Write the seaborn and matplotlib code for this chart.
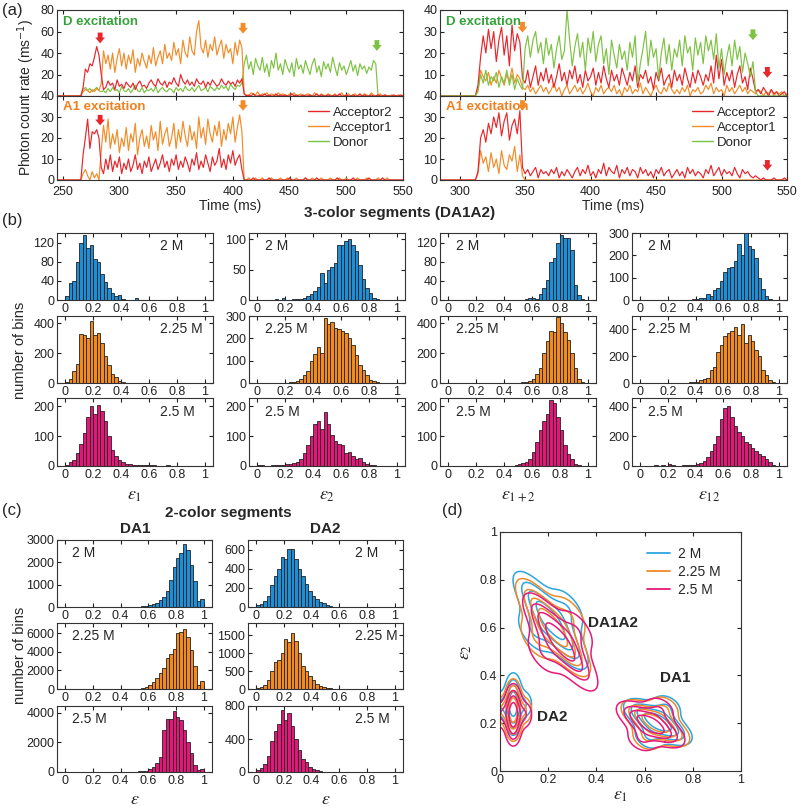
import numpy as np
import pandas as pd
import seaborn as sns
import matplotlib
matplotlib.use("Agg")
from matplotlib import pyplot as plt

# ---------------- data: (a) photon count traces, 2 ms bins ----------------
t_left = np.arange(246, 551, 2)    # 153 bins
t_right = np.arange(286, 551, 2)   # 133 bins

left_dex_a2 = """
0 0 0 0 0 0 0 0 0 0
0 8 25 22 30 28 36 46 38 20
6 8 14 10 12 6 15 9 11 7
13 10 8 12 6 11 14 9 10 7
12 15 11 9 16 12 10 14 8 13
11 17 12 9 20 14 11 15 10 13
9 16 12 11 14 8 13 10 15 12
9 11 16 12 10 14 11 13 9 15
12 16 2 0 1 0 2 0 0 1
0 2 0 1 0 0 2 0 1 0
1 0 0 2 0 1 0 0 1 0
0 1 0 0 2 0 1 0 0 1
0 0 1 0 2 0 0 1 0 0
1 0 0 2 0 1 0 0 1 0
0 1 0 0 1 0 0 0 1 0
0 1 0"""
left_dex_a1 = """
0 0 0 0 0 0 0 0 0 0
0 4 6 5 3 6 4 7 5 12
42 30 38 25 40 22 35 44 28 40
25 38 30 43 22 35 28 40 32 26
38 30 45 28 36 42 30 48 35 40
33 50 38 44 30 52 40 36 55 42
38 60 70 45 40 52 36 48 42 55
38 46 52 35 48 40 44 30 50 38
52 45 2 1 0 3 2 1 4 0
2 1 3 0 2 1 0 3 1 2
1 0 2 1 3 0 1 2 0 1
2 1 0 3 1 0 2 1 0 2
1 0 2 0 1 3 0 1 2 0
1 2 0 1 0 2 1 0 3 1
0 1 2 0 1 0 0 1 0 0
1 0 0"""
left_dex_d = """
0 0 0 0 0 0 0 0 0 0
0 6 8 5 7 4 6 8 5 4
5 3 7 4 8 5 6 3 9 5
4 7 3 6 10 5 4 8 3 6
5 7 4 9 3 6 8 5 4 7
6 3 8 5 7 4 9 6 5 8
4 7 10 5 6 8 4 9 7 5
8 6 10 7 9 5 11 8 6 10
9 12 30 38 25 32 20 35 28 24
36 22 30 18 33 26 40 24 30 20
34 27 22 31 18 35 25 29 21 33
26 20 30 35 22 28 18 32 25 30
22 36 27 19 31 24 28 20 26 33
23 29 19 30 25 28 21 27 24 33
30 0 0 0 0 0 0 0 0 0
0 0 0"""
left_a1_a2 = """
0 0 0 0 0 0 0 0 0 0
0 12 20 29 15 23 22 24 20 6
3 10 5 12 4 9 6 11 3 8
5 10 4 7 12 5 8 3 9 6
11 4 7 10 5 8 12 6 9 4
10 7 12 5 9 6 11 8 4 10
7 13 5 9 6 12 8 4 11 7
9 15 6 10 5 12 8 14 7 10
12 5 0 0 0 0 1 0 0 0
0 0 0 1 0 0 0 0 0 0
0 0 1 0 0 0 0 0 0 1
0 0 0 0 1 0 0 0 0 0
0 0 0 1 0 0 0 0 0 0
1 0 0 0 0 0 0 1 0 0
0 0 0 1 0 0 0 0 0 0
0 0 0"""
left_a1_a1 = """
0 0 0 0 0 0 0 0 0 0
0 3 5 2 0 4 1 3 0 14
26 18 29 15 22 17 24 13 20 16
25 14 22 18 27 12 20 24 16 21
15 26 19 23 14 28 17 22 25 16
20 27 15 24 18 28 21 16 26 19
23 15 30 20 25 17 29 22 18 26
21 28 16 24 19 27 22 30 18 25
31 23 0 0 1 0 0 1 0 0
1 0 0 0 1 0 0 0 1 0
0 1 0 0 0 1 0 0 0 1
0 0 1 0 0 0 1 0 0 0
1 0 0 0 1 0 0 1 0 0
0 0 1 0 0 0 1 0 0 0
0 1 0 0 0 1 0 0 0 0
0 0 0"""

right_dex_a2 = """
0 0 0 0 0 0 0 0 0 0
0 0 0 0 5 18 28 20 31 22
30 16 26 32 19 28 14 33 21 29
25 8 6 12 4 9 14 5 11 7
13 6 10 4 9 15 7 11 5 12
8 14 6 10 4 12 7 9 13 5
11 6 14 8 4 12 7 10 5 13
9 5 11 7 14 4 10 8 12 6
9 3 11 7 13 5 8 10 4 12
7 10 5 13 8 4 11 6 12 9
5 10 7 14 6 19 8 17 5 11
7 12 4 10 14 6 9 3 13 8
2 3 1 4 2 0 3 1 2 0
1 2 0"""
right_dex_a1 = """
0 0 0 0 0 0 0 0 0 0
0 0 0 0 3 12 9 7 11 5
9 6 12 8 5 10 7 13 6 10
8 4 3 5 2 4 1 3 5 2
4 1 3 6 2 4 0 3 5 1
3 5 2 4 1 3 6 2 0 4
2 5 1 3 4 2 5 1 3 0
4 2 5 1 3 2 6 1 4 2
0 3 5 2 1 4 2 6 3 1
3 1 4 2 5 0 3 2 4 1
2 5 3 6 1 4 2 3 0 5
2 4 1 3 5 2 4 1 3 2
1 3 2 0 2 1 3 0 2 1
2 0 1"""
right_dex_d = """
0 0 0 0 0 0 0 0 0 0
0 0 0 0 2 10 6 12 5 9
7 11 4 9 6 12 5 10 3 8
5 3 22 28 18 26 30 20 25 15
27 19 24 13 22 28 17 21 40 26
14 23 29 18 25 12 27 20 30 16
24 28 15 22 10 26 19 13 24 17
21 12 25 18 28 6 15 22 30 14
26 18 22 8 20 27 15 24 12 22
18 26 14 28 20 23 12 27 19 25
15 28 21 26 17 29 13 22 10 18
24 14 26 17 23 11 20 15 9 16
2 0 0 0 0 0 0 0 0 0
0 0 0"""
right_a1_a2 = """
0 0 0 0 0 0 0 0 0 0
0 0 0 0 4 20 24 18 27 22
30 25 32 21 28 32 19 26 29 22
33 6 3 5 2 4 6 1 5 3
4 2 5 3 6 1 4 2 5 3
1 4 6 2 5 3 7 2 4 1
5 3 8 2 6 4 3 7 1 5
3 6 2 5 4 1 6 3 5 2
4 1 5 3 6 2 4 5 1 3
5 2 4 1 6 3 5 2 4 3
1 5 3 7 2 4 6 2 5 3
4 2 6 3 1 5 3 4 2 1
2 1 0 1 0 0 0 1 0 0
0 1 0"""
right_a1_a1 = """
0 0 0 0 0 0 0 0 0 0
0 0 0 0 3 14 8 11 4 13
6 10 3 14 7 5 12 9 16 4
12 2 0 0 0 0 0 0 0 0
0 0 0 0 0 0 0 0 0 0
0 0 0 0 0 0 0 0 0 0
0 0 0 0 0 0 0 0 0 0
0 0 0 0 0 0 0 0 0 0
0 0 0 0 0 0 0 0 0 0
0 0 0 0 0 0 0 0 0 0
0 0 0 0 0 0 0 0 0 0
0 0 0 0 0 0 0 0 0 0
0 0 0 0 0 0 0 0 0 0
0 0 0"""

# ---------------- data: (b) 3-color histograms (40 bins, 0-1) ----------------
e1_2M = [8, 35, 40, 80, 120, 135, 108, 115, 85, 80, 55, 38, 25, 15, 8, 10, 2, 1, 0, 0,
         4, 0, 0, 0, 0, 0, 0, 0, 0, 0, 0, 0, 0, 0, 0, 0, 0, 0, 0, 0]
e1_225 = [5, 25, 80, 130, 330, 320, 300, 415, 320, 335, 270, 180, 120, 60, 40, 15, 8, 3, 1, 0,
          0, 0, 0, 0, 0, 0, 0, 0, 0, 0, 0, 0, 0, 0, 0, 0, 0, 0, 0, 0]
e1_25 = [5, 12, 20, 45, 75, 110, 165, 200, 175, 205, 185, 150, 100, 55, 35, 20, 12, 8, 8, 3,
         2, 3, 2, 4, 5, 3, 0, 0, 0, 2, 0, 0, 0, 0, 0, 0, 0, 0, 0, 0]
e2_2M = [0, 0, 0, 0, 0, 2, 0, 3, 0, 0, 1, 1, 2, 4, 6, 10, 15, 22, 45, 28,
         50, 55, 60, 90, 90, 97, 100, 90, 80, 58, 35, 20, 12, 4, 2, 0, 0, 0, 0, 0]
e2_225 = [0, 0, 0, 0, 2, 0, 0, 1, 2, 3, 6, 10, 20, 35, 55, 100, 130, 160, 135, 290,
          265, 275, 245, 240, 235, 225, 200, 170, 125, 80, 60, 35, 15, 8, 4, 1, 0, 0, 0, 0]
e2_25 = [3, 2, 1, 1, 3, 4, 5, 5, 6, 8, 10, 15, 25, 45, 70, 100, 140, 150, 125, 180,
         140, 105, 85, 75, 70, 45, 47, 35, 25, 28, 15, 8, 4, 2, 1, 0, 0, 0, 0, 0]
esum_2M = [0, 0, 0, 0, 0, 0, 0, 0, 0, 0, 0, 0, 0, 0, 0, 0, 0, 0, 0, 0,
           1, 1, 2, 4, 5, 3, 12, 25, 42, 80, 88, 120, 135, 130, 130, 105, 31, 10, 3, 0]
esum_225 = [0, 0, 0, 0, 0, 0, 0, 0, 0, 0, 0, 0, 0, 0, 0, 0, 0, 0, 0, 3,
            3, 5, 8, 15, 30, 60, 100, 200, 280, 350, 340, 440, 400, 340, 290, 200, 100, 30, 5, 0]
esum_25 = [0, 0, 0, 0, 0, 0, 0, 0, 0, 0, 0, 0, 0, 0, 0, 0, 0, 0, 0, 3,
           8, 10, 12, 25, 48, 80, 120, 150, 175, 222, 210, 165, 120, 70, 40, 25, 8, 2, 0, 0]
e12_2M = [2, 1, 0, 1, 0, 1, 0, 2, 0, 0, 2, 0, 0, 2, 0, 3, 5, 10, 8, 25,
          20, 45, 55, 85, 124, 145, 148, 175, 250, 200, 300, 240, 230, 190, 100, 50, 20, 5, 0, 0]
e12_225 = [2, 0, 0, 0, 0, 2, 0, 0, 0, 3, 3, 0, 0, 3, 4, 5, 10, 20, 30, 40,
           100, 120, 230, 280, 350, 370, 390, 420, 360, 440, 300, 360, 310, 250, 200, 100, 60, 20, 5, 0]
e12_25 = [3, 1, 0, 2, 4, 0, 5, 0, 15, 8, 0, 3, 5, 4, 6, 8, 12, 20, 35, 60,
          100, 150, 200, 320, 390, 405, 330, 270, 230, 200, 165, 150, 120, 100, 80, 70, 50, 25, 8, 0]

# ---------------- data: (c) 2-color histograms ----------------
da1_2M = [0, 0, 0, 0, 0, 0, 0, 0, 0, 0, 0, 0, 0, 0, 0, 0, 0, 0, 0, 5,
          10, 15, 30, 50, 80, 120, 200, 300, 450, 700, 1200, 1800, 2200, 2400, 2800, 2550, 1900, 1150, 250, 350]
da1_225 = [0, 0, 0, 0, 0, 0, 0, 0, 0, 0, 0, 0, 0, 0, 0, 0, 0, 0, 10, 20,
           30, 50, 100, 200, 400, 700, 1200, 1700, 2300, 3300, 3800, 4300, 6000, 6100, 6450, 5600, 4200, 2500, 450, 900]
da1_25 = [0, 0, 0, 0, 0, 0, 0, 0, 0, 0, 0, 0, 0, 0, 0, 0, 0, 0, 0, 10,
          20, 40, 60, 100, 200, 350, 600, 1000, 2800, 3550, 3600, 4100, 3700, 3500, 2850, 2000, 1300, 500, 150, 200]
da2_2M = [20, 30, 60, 120, 230, 320, 400, 520, 500, 610, 610, 500, 400, 320, 240, 170, 120, 80, 50, 40,
          20, 10, 5, 0, 0, 0, 0, 0, 0, 0, 0, 0, 0, 0, 0, 0, 0, 0, 0, 0]
da2_225 = [20, 60, 120, 250, 500, 750, 800, 1000, 1400, 1300, 1550, 1350, 1000, 650, 500, 350, 250, 150, 80, 60,
           30, 15, 5, 0, 0, 0, 0, 0, 0, 0, 0, 0, 0, 0, 0, 0, 0, 0, 0, 0]
da2_25 = [20, 50, 100, 200, 380, 500, 580, 750, 630, 710, 560, 400, 270, 160, 120, 60, 40, 20, 10, 5,
          0, 0, 0, 0, 0, 0, 0, 0, 0, 0, 0, 0, 0, 0, 0, 0, 0, 0, 0, 0]

# ---------------- data: (d) weighted anchor points for the 2D densities ----------------
conds = ['2 M', '2.25 M', '2.5 M']
pop_names = ['DA1A2', 'DA1', 'DA2']
anchor_w = [1, 2, 3, 2, 1, 1.5, 1.5]
kde_e1 = {
    ('DA1A2', '2 M'): [0.111, 0.161, 0.21, 0.259, 0.309, 0.279, 0.141],
    ('DA1A2', '2.25 M'): [0.121, 0.171, 0.22, 0.269, 0.319, 0.289, 0.151],
    ('DA1A2', '2.5 M'): [0.151, 0.201, 0.25, 0.299, 0.349, 0.319, 0.181],
    ('DA1', '2 M'): [0.56, 0.607, 0.655, 0.703, 0.75, 0.693, 0.617],
    ('DA1', '2.25 M'): [0.55, 0.597, 0.645, 0.693, 0.74, 0.683, 0.607],
    ('DA1', '2.5 M'): [0.53, 0.577, 0.625, 0.673, 0.72, 0.663, 0.587],
    ('DA2', '2 M'): [0.055, 0.055, 0.055, 0.055, 0.055, 0.005, 0.105],
    ('DA2', '2.25 M'): [0.055, 0.055, 0.055, 0.055, 0.055, 0.005, 0.105],
    ('DA2', '2.5 M'): [0.055, 0.055, 0.055, 0.055, 0.055, 0.005, 0.105],
}
kde_e2 = {
    ('DA1A2', '2 M'): [0.768, 0.699, 0.63, 0.561, 0.492, 0.679, 0.581],
    ('DA1A2', '2.25 M'): [0.738, 0.669, 0.60, 0.531, 0.462, 0.649, 0.551],
    ('DA1A2', '2.5 M'): [0.678, 0.609, 0.54, 0.471, 0.402, 0.589, 0.491],
    ('DA1', '2 M'): [0.26, 0.233, 0.205, 0.177, 0.15, 0.27, 0.14],
    ('DA1', '2.25 M'): [0.255, 0.228, 0.20, 0.172, 0.145, 0.265, 0.135],
    ('DA1', '2.5 M'): [0.25, 0.223, 0.195, 0.167, 0.14, 0.26, 0.13],
    ('DA2', '2 M'): [0.19, 0.235, 0.28, 0.325, 0.37, 0.28, 0.28],
    ('DA2', '2.25 M'): [0.165, 0.21, 0.255, 0.30, 0.345, 0.255, 0.255],
    ('DA2', '2.5 M'): [0.145, 0.19, 0.235, 0.28, 0.325, 0.235, 0.235],
}

# ---------------- style ----------------
sns.set_style("ticks")
plt.rcParams['font.family'] = ['Liberation Sans', 'DejaVu Sans']
plt.rcParams.update({
    'xtick.direction': 'in', 'ytick.direction': 'in',
    'xtick.top': True, 'ytick.right': True,
    'xtick.labelsize': 9, 'ytick.labelsize': 9,
    'axes.linewidth': 0.8, 'axes.edgecolor': '#333333',
    'xtick.major.size': 3, 'ytick.major.size': 3,
    'xtick.major.pad': 2, 'ytick.major.pad': 2,
    'xtick.color': '#222222', 'ytick.color': '#222222',
})

c_a2, c_a1, c_d = '#e8262b', '#f28c28', '#7dc242'
c_blue, c_orange, c_pink = '#1e8fd6', '#f28a1e', '#e3177a'
cond_colors = {'2 M': '#2aa6e0', '2.25 M': '#f08a28', '2.5 M': '#e6197a'}

W, H = 800, 811
fig = plt.figure(figsize=(8, 8.11), dpi=100)


def px_axes(x0, y0, x1, y1):
    return fig.add_axes([x0 / W, 1 - y1 / H, (x1 - x0) / W, (y1 - y0) / H])


def vals(s):
    return np.array(s.split(), dtype=float)


def arrow(ax, x, ytip, ytail, col):
    ax.annotate('', xy=(x, ytip), xytext=(x, ytail),
                arrowprops=dict(arrowstyle='simple,head_length=0.6,head_width=1.0,tail_width=0.5',
                                color=col, lw=0, mutation_scale=7, shrinkA=0, shrinkB=0))


def trace(ax, t, series, xlim, xticks, ylim, yticks, show_x):
    for s, col in series:
        sns.lineplot(x=t, y=vals(s), color=col, lw=0.85, ax=ax, estimator=None)
    ax.set_xlim(xlim)
    ax.set_ylim(ylim)
    ax.set_xticks(xticks)
    ax.set_yticks(yticks)
    ax.set_xlabel('')
    ax.set_ylabel('')
    if not show_x:
        ax.tick_params(labelbottom=False)
    else:
        ax.tick_params(axis='x', pad=4)


# ---------------- (a) ----------------
axLT = px_axes(57, 10, 403, 96)
axLB = px_axes(57, 96, 403, 180)
axRT = px_axes(440, 10, 787, 96)
axRB = px_axes(440, 96, 787, 180)

trace(axLT, t_left, [(left_dex_d, c_d), (left_dex_a1, c_a1), (left_dex_a2, c_a2)],
      (245, 550), range(250, 551, 50), (0, 80), [20, 40, 60, 80], False)
trace(axLB, t_left, [(left_a1_a1, c_a1), (left_a1_a2, c_a2)],
      (245, 550), range(250, 551, 50), (0, 40), [0, 10, 20, 30, 40], True)
trace(axRT, t_right, [(right_dex_a1, c_a1), (right_dex_a2, c_a2), (right_dex_d, c_d)],
      (285, 550), range(300, 551, 50), (0, 40), [10, 20, 30, 40], False)
trace(axRB, t_right, [(right_a1_a1, c_a1), (right_a1_a2, c_a2)],
      (285, 550), range(300, 551, 50), (0, 40), [0, 10, 20, 30, 40], True)

for ax in (axLT, axRT):
    ax.text(0.018, 0.86, 'D excitation', transform=ax.transAxes, color='#35a33a',
            fontsize=9.5, fontweight='bold', va='center')
for ax in (axLB, axRB):
    ax.text(0.018, 0.87, 'A1 excitation', transform=ax.transAxes, color='#f07f1e',
            fontsize=9.5, fontweight='bold', va='center')
    ax.set_xlabel('Time (ms)', fontsize=10, labelpad=1)
    ax.plot([], [], color=c_a2, lw=1, label='Acceptor2')
    ax.plot([], [], color=c_a1, lw=1, label='Acceptor1')
    ax.plot([], [], color=c_d, lw=1, label='Donor')
    ax.legend(loc='upper right', frameon=False, fontsize=9.5, handlelength=1.6,
              labelspacing=0.2, borderaxespad=0.4, handletextpad=0.3)

arrow(axLT, 283, 49, 59, c_a2)
arrow(axLT, 409, 58, 68, c_a1)
arrow(axLT, 527, 42, 52, c_d)
arrow(axLB, 283, 26, 31, c_a2)
arrow(axLB, 409, 33, 38, c_a1)
arrow(axRT, 348, 29.5, 34.5, c_a1)
arrow(axRT, 524, 26, 31, c_d)
arrow(axRT, 535, 8.5, 13.5, c_a2)
arrow(axRB, 348, 33, 38, c_a1)
arrow(axRB, 535, 4.5, 9.5, c_a2)

fig.text(26 / W, 1 - 97 / H, 'Photon count rate (ms$^{-1}$)', rotation=90,
         ha='center', va='center', fontsize=10)

# ---------------- histograms ----------------
centers = np.linspace(0.0125, 0.9875, 40)


def hist(box, counts, color, ylim, yticks, label, lx):
    ax = px_axes(*box)
    hdf = pd.DataFrame({'eps': centers, 'n': counts})
    sns.histplot(data=hdf, x='eps', weights='n', binwidth=0.025, binrange=(0, 1),
                 color=color, edgecolor='#222222', linewidth=0.6, alpha=1, ax=ax)
    ax.set_xlim(-0.06, 1.06)
    ax.set_ylim(ylim)
    ax.set_yticks(yticks)
    ax.set_xticks([0, 0.2, 0.4, 0.6, 0.8, 1])
    ax.set_xticklabels(['0', '0.2', '0.4', '0.6', '0.8', '1'])
    ax.set_xlabel('')
    ax.set_ylabel('')
    ax.text(lx, 0.8, label, transform=ax.transAxes, fontsize=10, va='center', ha='left')
    return ax


b_cols = [(57, 213), (249, 405), (440, 596), (632, 787)]
b_rows = [(233, 300), (316, 383), (398, 466)]
b_data = [
    [(e1_2M, (0, 140), [0, 40, 80, 120]), (e1_225, (0, 450), [0, 200, 400]), (e1_25, (0, 228), [0, 100, 200])],
    [(e2_2M, (0, 110), [0, 50, 100]), (e2_225, (0, 300), [0, 100, 200, 300]), (e2_25, (0, 228), [0, 100, 200])],
    [(esum_2M, (0, 140), [0, 40, 80, 120]), (esum_225, (0, 450), [0, 200, 400]), (esum_25, (0, 228), [0, 100, 200])],
    [(e12_2M, (0, 300), [0, 100, 200, 300]), (e12_225, (0, 500), [0, 200, 400]), (e12_25, (0, 460), [0, 200, 400])],
]
row_colors = [c_blue, c_orange, c_pink]
b_xlabels = [r'$\varepsilon_1$', r'$\varepsilon_2$', r'$\varepsilon_{1+2}$', r'$\varepsilon_{12}$']
for ci, (x0, x1) in enumerate(b_cols):
    for ri, (y0, y1) in enumerate(b_rows):
        cnt, yl, yt = b_data[ci][ri]
        ax = hist((x0, y0, x1, y1), cnt, row_colors[ri], yl, yt, conds[ri], 0.66 if ci == 0 else 0.1)
    fig.text((x0 + x1) / 2 / W, 1 - 495 / H, b_xlabels[ci], ha='center', va='center',
             fontsize=13, math_fontfamily='stix')

fig.text(0.5, 1 - 213 / H, '3-color segments (DA1A2)', ha='center', va='center',
         fontsize=11, fontweight='bold')
fig.text(20 / W, 1 - 350 / H, 'number of bins', rotation=90, ha='center', va='center', fontsize=10.5)

c_cols = [(57, 212), (248, 403)]
c_rows = [(540, 607), (623, 689), (706, 772)]
c_data = [
    [(da1_2M, (0, 3000), [0, 1000, 2000, 3000]), (da1_225, (0, 7100), [0, 2000, 4000, 6000]),
     (da1_25, (0, 4450), [0, 2000, 4000])],
    [(da2_2M, (0, 700), [0, 200, 400, 600]), (da2_225, (0, 1840), [0, 500, 1000, 1500]),
     (da2_25, (0, 800), [0, 400, 800])],
]
for ci, (x0, x1) in enumerate(c_cols):
    for ri, (y0, y1) in enumerate(c_rows):
        cnt, yl, yt = c_data[ci][ri]
        hist((x0, y0, x1, y1), cnt, row_colors[ri], yl, yt, conds[ri], 0.1 if ci == 0 else 0.69)
    fig.text((x0 + x1) / 2 / W, 1 - 800 / H, r'$\varepsilon$', ha='center', va='center',
             fontsize=13, math_fontfamily='stix')
fig.text(228 / W, 1 - 513 / H, '2-color segments', ha='center', va='center', fontsize=11, fontweight='bold')
fig.text(135 / W, 1 - 529 / H, 'DA1', ha='center', va='center', fontsize=11, fontweight='bold')
fig.text(325 / W, 1 - 529 / H, 'DA2', ha='center', va='center', fontsize=11, fontweight='bold')
fig.text(20 / W, 1 - 655 / H, 'number of bins', rotation=90, ha='center', va='center', fontsize=10.5)

# ---------------- (d) ----------------
axd = px_axes(500, 532, 741, 771)
rows = []
for (pop, cond), xs in kde_e1.items():
    for x, y, w in zip(xs, kde_e2[(pop, cond)], anchor_w):
        rows.append({'e1': x, 'e2': y, 'w': w, 'pop': pop, 'cond': cond})
kde_df = pd.DataFrame(rows)
for cond in conds:
    for pop in pop_names:
        sub = kde_df[(kde_df['pop'] == pop) & (kde_df['cond'] == cond)]
        sns.kdeplot(data=sub, x='e1', y='e2', weights='w', levels=5, thresh=0.12,
                    color=cond_colors[cond], linewidths=1.1, ax=axd)
for cond in conds:
    axd.plot([], [], color=cond_colors[cond], lw=1.3, label=cond)
axd.legend(loc='upper left', bbox_to_anchor=(0.56, 0.99), frameon=False, fontsize=10,
           handlelength=1.6, labelspacing=0.3, handletextpad=0.6)
axd.set_xlim(0, 1)
axd.set_ylim(0, 1)
axd.set_xticks([0, 0.2, 0.4, 0.6, 0.8, 1])
axd.set_yticks([0, 0.2, 0.4, 0.6, 0.8, 1])
axd.set_xticklabels(['0', '0.2', '0.4', '0.6', '0.8', '1'])
axd.set_yticklabels(['0', '0.2', '0.4', '0.6', '0.8', '1'])
axd.set_xlabel(r'$\varepsilon_1$', fontsize=13, math_fontfamily='stix', labelpad=1)
axd.set_ylabel(r'$\varepsilon_2$', fontsize=13, math_fontfamily='stix', labelpad=4)
axd.text(0.365, 0.62, 'DA1A2', fontsize=11, fontweight='bold', va='center')
axd.text(0.665, 0.39, 'DA1', fontsize=11, fontweight='bold', va='center')
axd.text(0.155, 0.225, 'DA2', fontsize=11, fontweight='bold', va='center')

# panel letters
for lab, x, y in [('(a)', 2, 11), ('(b)', 2, 220), ('(c)', 2, 510), ('(d)', 442, 510)]:
    fig.text(x / W, 1 - y / H, lab, fontsize=12, va='center', ha='left')

fig.savefig('out.png', dpi=100)
